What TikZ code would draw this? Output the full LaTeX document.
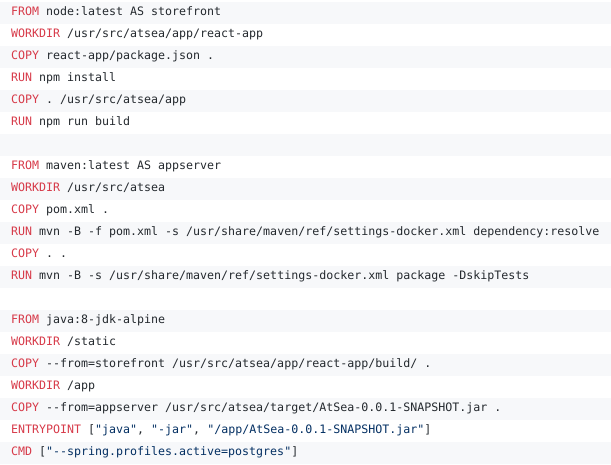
\documentclass[tikz,border=0pt]{standalone}
\usepackage{fontspec}
\setmonofont{DejaVu Sans Mono}
\definecolor{kwcol}{HTML}{D73A49}
\definecolor{txtcol}{HTML}{24292E}
\definecolor{strcol}{HTML}{032F62}
\definecolor{stripe}{HTML}{F7F8FA}
\newcommand{\kwd}[1]{\textcolor{kwcol}{#1}}
\newcommand{\strg}[1]{\textcolor{strcol}{#1}}
\tikzset{codeline/.style={anchor=base west, inner sep=0pt, text=txtcol,
  font=\ttfamily\fontsize{11.63}{14}\selectfont}}
\begin{document}
\begin{tikzpicture}[x=1pt,y=-1pt]
\useasboundingbox (0,0) rectangle (611,464);
\foreach \i in {0,2,...,20} {
  \fill[stripe] (0,{22*\i+2}) rectangle (611,{22*\i+24});
}
\node[codeline] (l0) at (11,{22*0+15.5}) {\kwd{FROM} node:latest AS storefront};
\node[codeline] (l1) at (11,{22*1+15.5}) {\kwd{WORKDIR} /usr/src/atsea/app/react-app};
\node[codeline] (l2) at (11,{22*2+15.5}) {\kwd{COPY} react-app/package.json .};
\node[codeline] (l3) at (11,{22*3+15.5}) {\kwd{RUN} npm install};
\node[codeline] (l4) at (11,{22*4+15.5}) {\kwd{COPY} . /usr/src/atsea/app};
\node[codeline] (l5) at (11,{22*5+15.5}) {\kwd{RUN} npm run build};
\node[codeline] (l7) at (11,{22*7+15.5}) {\kwd{FROM} maven:latest AS appserver};
\node[codeline] (l8) at (11,{22*8+15.5}) {\kwd{WORKDIR} /usr/src/atsea};
\node[codeline] (l9) at (11,{22*9+15.5}) {\kwd{COPY} pom.xml .};
\node[codeline] (l10) at (11,{22*10+15.5}) {\kwd{RUN} mvn -B -f pom.xml -s /usr/share/maven/ref/settings-docker.xml dependency:resolve};
\node[codeline] (l11) at (11,{22*11+15.5}) {\kwd{COPY} . .};
\node[codeline] (l12) at (11,{22*12+15.5}) {\kwd{RUN} mvn -B -s /usr/share/maven/ref/settings-docker.xml package -DskipTests};
\node[codeline] (l14) at (11,{22*14+15.5}) {\kwd{FROM} java:8-jdk-alpine};
\node[codeline] (l15) at (11,{22*15+15.5}) {\kwd{WORKDIR} /static};
\node[codeline] (l16) at (11,{22*16+15.5}) {\kwd{COPY} -{}-from=storefront /usr/src/atsea/app/react-app/build/ .};
\node[codeline] (l17) at (11,{22*17+15.5}) {\kwd{WORKDIR} /app};
\node[codeline] (l18) at (11,{22*18+15.5}) {\kwd{COPY} -{}-from=appserver /usr/src/atsea/target/AtSea-0.0.1-SNAPSHOT.jar .};
\node[codeline] (l19) at (11,{22*19+15.5}) {\kwd{ENTRYPOINT} [\strg{"java"}, \strg{"-jar"}, \strg{"/app/AtSea-0.0.1-SNAPSHOT.jar"}]};
\node[codeline] (l20) at (11,{22*20+15.5}) {\kwd{CMD} [\strg{"-{}-spring.profiles.active=postgres"}]};
\end{tikzpicture}
\end{document}
